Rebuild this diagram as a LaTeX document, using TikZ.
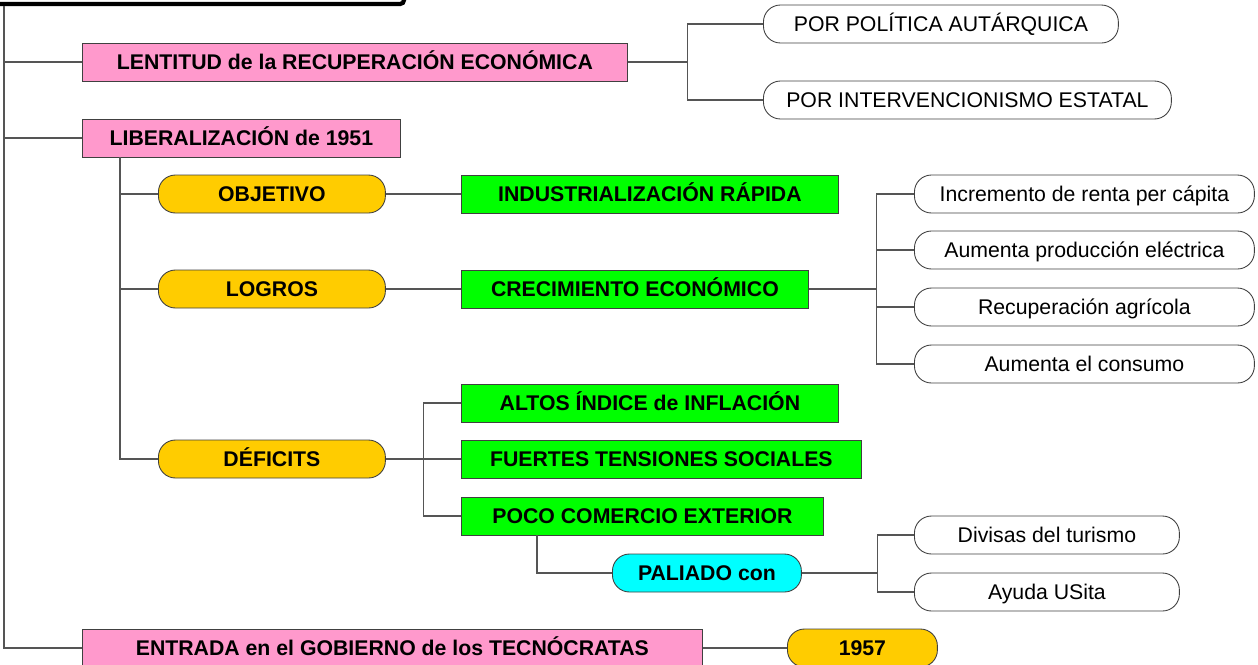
\documentclass[tikz,border=0pt]{standalone}
\usepackage{fontspec}
\setmainfont{Liberation Sans}
\usepackage{xcolor}
\usepackage{tikz}
\usetikzlibrary{calc}

\definecolor{rosa}{HTML}{FF99CC}
\definecolor{naranja}{HTML}{FFCC00}
\definecolor{verde}{HTML}{00FF00}
\definecolor{cian}{HTML}{00FFFF}
\definecolor{linea}{HTML}{555555}

\tikzset{
	caja/.style = {draw = black!75, line width = 0.5pt, minimum height = 0.76cm, inner sep = 0pt, text height = 10pt, text depth = 1.4pt, anchor = west, font = \bfseries\fontsize{12.1}{14}\selectfont},
	tema/.style = {caja, fill = rosa},
	idea/.style = {caja, fill = verde},
	clave/.style = {caja, fill = naranja, rounded corners = 0.34cm},
	paliado/.style = {caja, fill = cian, rounded corners = 0.34cm},
	dato/.style = {caja, fill = white, rounded corners = 0.34cm, font = \fontsize{12.1}{14}\selectfont},
	rama/.style = {draw = linea, line width = 0.6pt}
}

\begin{document}
\begin{tikzpicture}[x = 0.02cm, y = -0.02cm]
		\useasboundingbox (0,0) rectangle (1258,664);
		
		%root box (cut by the page edge)
		\node (raiz) [draw, line width = 2.4pt, rounded corners = 2pt, minimum width = 9cm, minimum height = 2cm, anchor = south east] at (406,6) {};
		\coordinate (t0) at (4,6);
		
		%main themes
		\node (lent) [tema, minimum width = 10.9cm] at (82,62) {LENTITUD de la RECUPERACIÓN ECONÓMICA};
		\node (lib) [tema, minimum width = 6.36cm] at (82,138) {LIBERALIZACIÓN de 1951};
		\node (entr) [tema, minimum width = 12.4cm] at (82,648) {ENTRADA en el GOBIERNO de los TECNÓCRATAS};
		
		\draw [rama] (t0) |- (entr.west);
		\draw [rama] (t0 |- lent) -- (lent.west);
		\draw [rama] (t0 |- lib) -- (lib.west);
		
		%causes of the slow recovery
		\node (aut) [dato, minimum width = 7.1cm] at (763,24) {POR POLÍTICA AUTÁRQUICA};
		\node (interv) [dato, minimum width = 8.16cm] at (763,100) {POR INTERVENCIONISMO ESTATAL};
		
		\draw [rama] (lent.east) -- ++(60,0) coordinate (b1);
		\draw [rama] (b1) |- (aut.west);
		\draw [rama] (b1) |- (interv.west);
		
		%liberalization
		\node (obj) [clave, minimum width = 4.54cm] at (158,194) {OBJETIVO};
		\node (logros) [clave, minimum width = 4.54cm] at (158,289) {LOGROS};
		\node (def) [clave, minimum width = 4.54cm] at (158,459) {DÉFICITS};
		
		\coordinate (b2) at ($(lib.south west)+(38,0)$);
		\draw [rama] (b2) |- (def.west);
		\draw [rama] (b2 |- obj) -- (obj.west);
		\draw [rama] (b2 |- logros) -- (logros.west);
		
		\node (ind) [idea, minimum width = 7.54cm] at (461,194) {INDUSTRIALIZACIÓN RÁPIDA};
		\node (crec) [idea, minimum width = 6.94cm] at (461,289) {CRECIMIENTO ECONÓMICO};
		\node (altos) [idea, minimum width = 7.54cm] at (461,403) {ALTOS ÍNDICE de INFLACIÓN};
		\node (fuertes) [idea, minimum width = 8cm] at (461,459) {FUERTES TENSIONES SOCIALES};
		\node (poco) [idea, minimum width = 7.24cm] at (461,516) {POCO COMERCIO EXTERIOR};
		
		\draw [rama] (obj.east) -- (ind.west);
		\draw [rama] (logros.east) -- (crec.west);
		
		\draw [rama] (def.east) -- ++(38,0) coordinate (b3);
		\draw [rama] (b3) |- (altos.west);
		\draw [rama] (b3) -- (fuertes.west);
		\draw [rama] (b3) |- (poco.west);
		
		%results of growth
		\node (incr) [dato, minimum width = 6.8cm] at (914,194) {Incremento de renta per cápita};
		\node (aump) [dato, minimum width = 6.8cm] at (914,250) {Aumenta producción eléctrica};
		\node (recup) [dato, minimum width = 6.8cm] at (914,307) {Recuperación agrícola};
		\node (aumc) [dato, minimum width = 6.8cm] at (914,364) {Aumenta el consumo};
		
		\draw [rama] (crec.east) -- ++(68,0) coordinate (b4);
		\draw [rama] (b4) |- (incr.west);
		\draw [rama] (b4) |- (aump.west);
		\draw [rama] (b4) |- (recup.west);
		\draw [rama] (b4) |- (aumc.west);
		
		%paliado
		\node (pal) [paliado, minimum width = 3.78cm] at (612,573) {PALIADO con};
		\draw [rama] ($(poco.south west)+(76,0)$) |- (pal.west);
		
		\node (divisas) [dato, minimum width = 5.3cm] at (914,535) {Divisas del turismo};
		\node (ayuda) [dato, minimum width = 5.3cm] at (914,592) {Ayuda USita};
		
		\draw [rama] (pal.east) -- ++(76,0) coordinate (b5);
		\draw [rama] (b5) |- (divisas.west);
		\draw [rama] (b5) |- (ayuda.west);
		
		%1957
		\node (anio) [clave, minimum width = 3cm] at (787,648) {1957};
		\draw [rama] (entr.east) -- (anio.west);
	\end{tikzpicture}
\end{document}
